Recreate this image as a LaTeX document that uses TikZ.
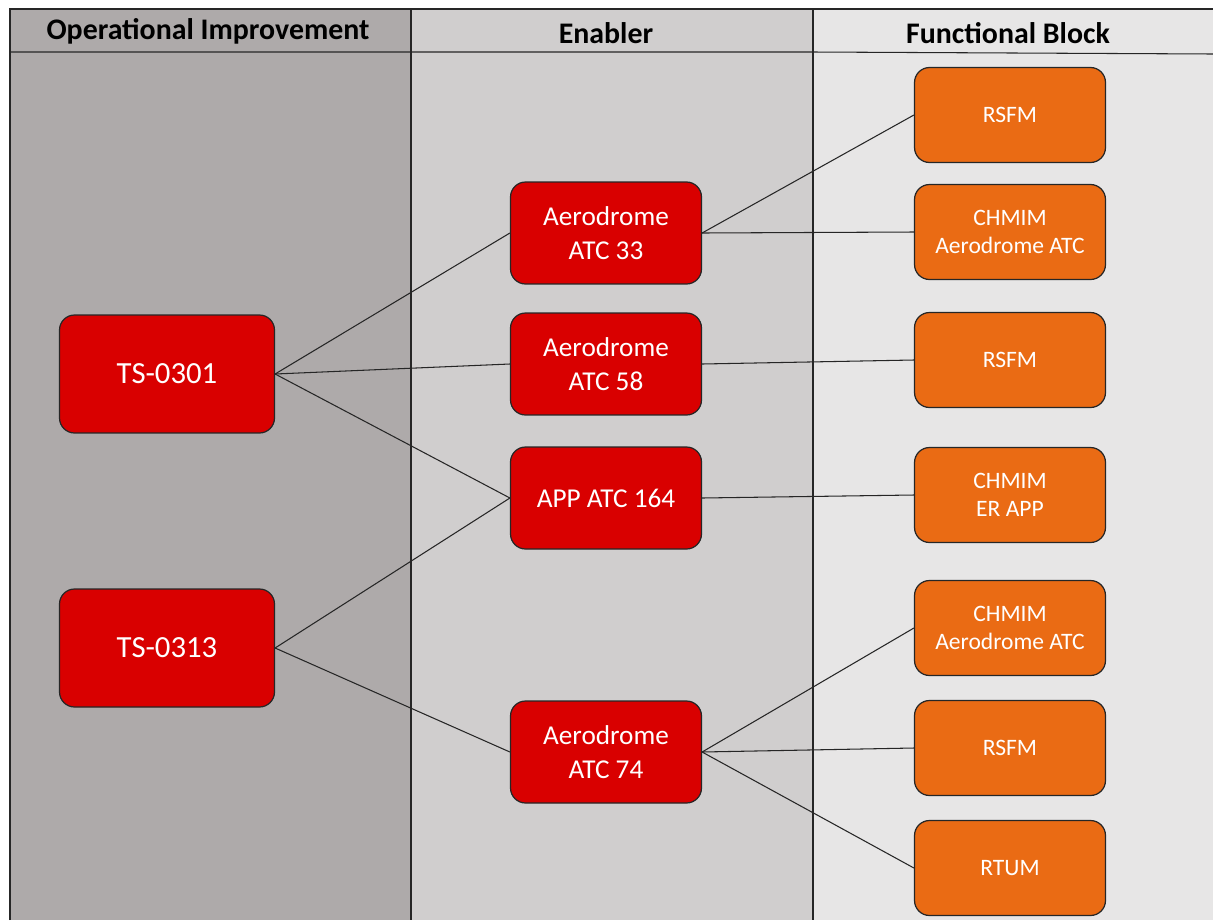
\documentclass[tikz,border=0pt]{standalone}
\usepackage{fontspec}
\setmainfont{Carlito}
\usepackage{tikz}
\usetikzlibrary{positioning}
\definecolor{colA}{HTML}{AEAAAA}
\definecolor{colB}{HTML}{D0CECE}
\definecolor{colC}{HTML}{E7E6E6}
\definecolor{redbox}{HTML}{D90000}
\definecolor{orangebox}{HTML}{EA6B14}
\tikzset{
  enabler/.style={draw=black!85,line width=0.7pt,fill=redbox,rounded corners=0.3cm,text=white,
    minimum width=3.82cm,minimum height=2.04cm,align=center,font=\fontsize{15.5}{19.5}\selectfont},
  improvement/.style={enabler,minimum width=4.3cm,minimum height=2.36cm,font=\fontsize{17.5}{21}\selectfont},
  fblock/.style={draw=black!85,line width=0.7pt,fill=orangebox,rounded corners=0.3cm,text=white,
    minimum width=3.82cm,minimum height=1.9cm,align=center,font=\fontsize{13.4}{16}\selectfont},
  header/.style={font=\bfseries\fontsize{17}{19}\selectfont},
  link/.style={draw=black!85,line width=0.6pt}
}
\begin{document}
\begin{tikzpicture}[x=0.02cm,y=-0.02cm]
  \useasboundingbox (0,0) rectangle (1213,920);
  % columns
  \fill[colA] (10,9) rectangle (411,920);
  \fill[colB] (411,9) rectangle (813,920);
  \fill[colC] (813,9) rectangle (1213,920);
  \draw[black!85,line width=0.6pt] (10,920)--(10,9)--(1213,9);
  \draw[black!85,line width=0.6pt] (411,9)--(411,920);
  \draw[black!85,line width=0.6pt] (813,9)--(813,920);
  \draw[black!85,line width=0.6pt] (10,52)--(813,52)--(1213,54);
  \node[header] (hA) at (208,31) {Operational Improvement};
  \node[header] (hB) at (606,33) {Enabler};
  \node[header] (hC) at (1008,33) {Functional Block};
  % operational improvements
  \node[improvement] (ts301) at (167,374) {TS-0301};
  \node[improvement] (ts313) at (167,648) {TS-0313};
  % enablers
  \node[enabler] (atc33) at (606,233) {Aerodrome\\ATC 33};
  \node[enabler] (atc58) at (606,364) {Aerodrome\\ATC 58};
  \node[enabler] (app164) at (606,498) {APP ATC 164};
  \node[enabler] (atc74) at (606,752) {Aerodrome\\ATC 74};
  % functional blocks
  \node[fblock] (rsfmA) at (1010,115) {RSFM};
  \node[fblock] (chmimA) at (1010,232) {CHMIM\\Aerodrome ATC};
  \node[fblock] (rsfmB) at (1010,360) {RSFM};
  \node[fblock] (chmimB) at (1010,495) {CHMIM\\ER APP};
  \node[fblock] (chmimC) at (1010,628) {CHMIM\\Aerodrome ATC};
  \node[fblock] (rsfmC) at (1010,748) {RSFM};
  \node[fblock] (rtum) at (1010,868) {RTUM};
  % links
  \draw[link] (ts301.east) -- (atc33.west);
  \draw[link] (ts301.east) -- (atc58.west);
  \draw[link] (ts301.east) -- (app164.west);
  \draw[link] (ts313.east) -- (app164.west);
  \draw[link] (ts313.east) -- (atc74.west);
  \draw[link] (atc33.east) -- (rsfmA.west);
  \draw[link] (atc33.east) -- (chmimA.west);
  \draw[link] (atc58.east) -- (rsfmB.west);
  \draw[link] (app164.east) -- (chmimB.west);
  \draw[link] (atc74.east) -- (chmimC.west);
  \draw[link] (atc74.east) -- (rsfmC.west);
  \draw[link] (atc74.east) -- (rtum.west);
\end{tikzpicture}
\end{document}
